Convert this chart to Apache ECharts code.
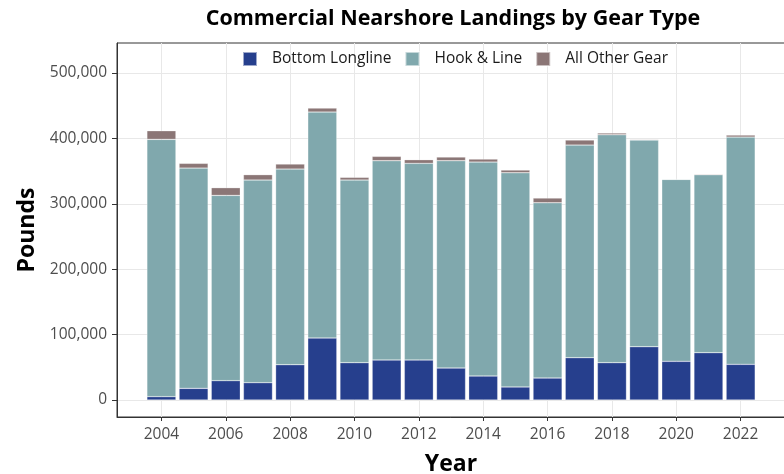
<!DOCTYPE html>
<html>
<head>
<meta charset="utf-8">
<script src="https://cdn.jsdelivr.net/npm/echarts@6/dist/echarts.min.js"></script>
<style>
  html, body { margin: 0; padding: 0; background: #fff; }
  #chart { width: 784px; height: 474px; }
</style>
</head>
<body>
<div id="chart"></div>
<script>
const years = [2004, 2005, 2006, 2007, 2008, 2009, 2010, 2011, 2012, 2013,
  2014, 2015, 2016, 2017, 2018, 2019, 2020, 2021, 2022];
const bottomLongline = [5100, 17800, 29600, 26500, 54000, 94800, 57100, 61200, 61200, 48900,
  36700, 19900, 33600, 64700, 57100, 81500, 59100, 72400, 54500];
const hookAndLine = [393500, 336900, 283300, 309900, 299200, 345600, 279300, 304800, 300700, 317100,
  327200, 327700, 268100, 325200, 348600, 316100, 278300, 272100, 347600];
const allOtherGear = [13200, 7200, 11800, 8200, 7700, 6100, 4100, 6600, 5600, 5600,
  4600, 4100, 7200, 7700, 2600, 1000, 500, 1100, 3100];
const xTicks = [2004, 2006, 2008, 2010, 2012, 2014, 2016, 2018, 2020, 2022];
const yTicks = [0, 100000, 200000, 300000, 400000, 500000];

const font = "'Open Sans', 'Noto Sans', sans-serif";
const colors = ["#263F8D", "#80A8AD", "#8B7676"];

// panel: x range in years, px per year
const xMin = 2002.62, xMax = 2023.38;
const panelLeft = 117, pxPerYear = 32.18;
const yMin = -26000, yMax = 546000;
// the bar grid is the same panel but only spans the category bands
const barLeft = panelLeft + (years[0] - 0.5 - xMin) * pxPerYear;
const barRight = 784 - (barLeft + years.length * pxPerYear);

const chart = echarts.init(document.getElementById("chart"), null, { renderer: "canvas" });

function makeSeries(name, values, color) {
  return {
    name: name,
    type: "bar",
    stack: "total",
    xAxisIndex: 1,
    yAxisIndex: 1,
    barWidth: 29,
    data: values,
    itemStyle: {
      color: color,
      borderColor: "rgba(255,255,255,0.55)",
      borderWidth: 0.5,
    },
  };
}

const option = {
  animation: false,
  textStyle: { fontFamily: font },
  grid: [
    {
      left: panelLeft,
      right: -1,
      top: 43,
      bottom: 57,
      outerBoundsMode: "none",
      show: true,
      borderColor: "#333333",
      borderWidth: 1,
      backgroundColor: "transparent",
    },
    {
      left: barLeft,
      right: barRight,
      top: 43,
      bottom: 57,
      outerBoundsMode: "none",
    },
  ],
  graphic: [
    {
      type: "text",
      x: 453,
      y: 19,
      style: {
        text: "Commercial Nearshore Landings by Gear Type",
        fontFamily: font,
        fontWeight: "bold",
        fontSize: 21.5,
        fill: "#000",
        textAlign: "center",
        textVerticalAlign: "middle",
      },
    },
  ],
  legend: {
    top: 51,
    left: 242,
    padding: 0,
    itemWidth: 14,
    itemHeight: 14,
    itemGap: 13,
    icon: "rect",
    textStyle: {
      fontFamily: font,
      fontSize: 15.5,
      color: "#1a1a1a",
      padding: [0, 0, 0, 10],
    },
    data: ["Bottom Longline", "Hook & Line", "All Other Gear"],
  },
  xAxis: [
    {
      type: "value",
      gridIndex: 0,
      min: xMin,
      max: xMax,
      name: "Year",
      nameLocation: "middle",
      nameGap: 36,
      nameTextStyle: { fontFamily: font, fontWeight: "bold", fontSize: 23, color: "#000" },
      axisLine: { onZero: false, lineStyle: { color: "#333333", width: 1 } },
      axisTick: { customValues: xTicks, length: 4, lineStyle: { color: "#333333" } },
      axisLabel: {
        customValues: xTicks,
        formatter: (v) => String(v),
        color: "#4d4d4d",
        fontSize: 15.5,
        margin: 10,
      },
      splitLine: { show: true, lineStyle: { color: "#e8e8e8", width: 1 } },
    },
    {
      type: "category",
      gridIndex: 1,
      data: years,
      show: false,
    },
  ],
  yAxis: [
    {
      type: "value",
      gridIndex: 0,
      min: yMin,
      max: yMax,
      name: "Pounds",
      nameLocation: "middle",
      nameGap: 72,
      nameRotate: 90,
      nameTextStyle: { fontFamily: font, fontWeight: "bold", fontSize: 23, color: "#000" },
      axisLine: { show: true, lineStyle: { color: "#333333", width: 1 } },
      axisTick: { show: true, customValues: yTicks, length: 5, lineStyle: { color: "#333333" } },
      axisLabel: {
        customValues: yTicks,
        formatter: (v) => v.toLocaleString("en-US"),
        color: "#4d4d4d",
        fontSize: 15.5,
        margin: 10,
      },
      splitLine: { show: true, lineStyle: { color: "#e8e8e8", width: 1 } },
    },
    {
      type: "value",
      gridIndex: 1,
      min: yMin,
      max: yMax,
      show: false,
      splitLine: { show: false },
    },
  ],
  series: [
    makeSeries("Bottom Longline", bottomLongline, colors[0]),
    makeSeries("Hook & Line", hookAndLine, colors[1]),
    makeSeries("All Other Gear", allOtherGear, colors[2]),
  ],
};

chart.setOption(option);
</script>
</body>
</html>
